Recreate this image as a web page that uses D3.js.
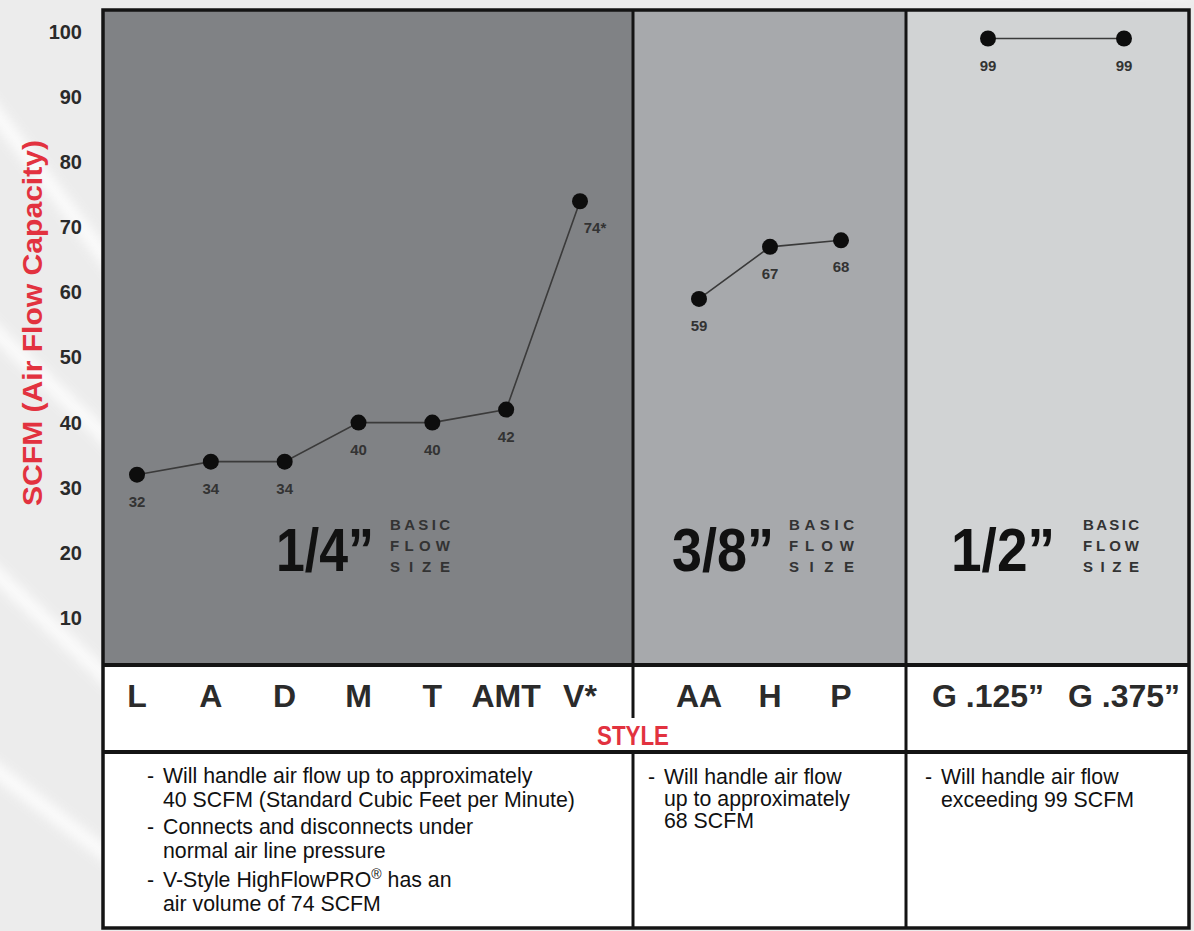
<!DOCTYPE html>
<html>
<head>
<meta charset="utf-8">
<script src="https://cdn.jsdelivr.net/npm/d3@7"></script>
<style>
  html, body { margin: 0; padding: 0; background: #ececec; }
  svg { display: block; }
</style>
</head>
<body>
<div id="chart"></div>
<script>
// ---------------- data ----------------
const stylesQuarter = ["L", "A", "D", "M", "T", "AMT", "V*"];
const valuesQuarter = [32, 34, 34, 40, 40, 42, 74];
const labelsQuarter = ["32", "34", "34", "40", "40", "42", "74*"];

const stylesThreeEighths = ["AA", "H", "P"];
const valuesThreeEighths = [59, 67, 68];
const labelsThreeEighths = ["59", "67", "68"];

const stylesHalf = ["G .125\u201D", "G .375\u201D"];
const valuesHalf = [99, 99];
const labelsHalf = ["99", "99"];

const flowSizes = ["1/4\u201D", "3/8\u201D", "1/2\u201D"];
const flowSizeWords = ["BASIC", "FLOW", "SIZE"];
const yTicks = [10, 20, 30, 40, 50, 60, 70, 80, 90, 100];

const yTitle = "SCFM (Air Flow Capacity)";
const xTitle = "STYLE";

const notesQuarter = [
  ["Will handle air flow up to approximately", "40 SCFM (Standard Cubic Feet per Minute)"],
  ["Connects and disconnects under", "normal air line pressure"],
  ["V-Style HighFlowPRO\u00AE has an", "air volume of 74 SCFM"]
];
const notesThreeEighths = [["Will handle air flow", "up to approximately", "68 SCFM"]];
const notesHalf = [["Will handle air flow", "exceeding 99 SCFM"]];

// ---------------- layout ----------------
const W = 1194, H = 931;
const frame = { left: 103, right: 1189, top: 10, bottom: 928 };
const plotBottom = 665, styleBottom = 752;
const div1 = 633, div2 = 906;
const panelFills = ["#808285", "#a7a9ac", "#d1d3d4"];
const FONT = "Liberation Sans, Arial, sans-serif";

const svg = d3.select("#chart").append("svg").attr("width", W).attr("height", H);

// background with faint swooshes
const defs = svg.append("defs");
defs.append("filter").attr("id", "blur").append("feGaussianBlur").attr("stdDeviation", 6);
svg.append("rect").attr("width", W).attr("height", H).attr("fill", "#ececec");
const swooshes = svg.append("g").attr("filter", "url(#blur)").attr("opacity", 0.85);
[[-60, 40, 160, 330], [-80, 260, 140, 470], [-40, 540, 130, 700], [-70, 720, 140, 880], [300, -40, 1190, -10]]
  .forEach(d => swooshes.append("line")
    .attr("x1", d[0]).attr("y1", d[1]).attr("x2", d[2]).attr("y2", d[3])
    .attr("stroke", "#ffffff").attr("stroke-width", 14));

// panels
const panels = [
  { x0: frame.left, x1: div1, fill: panelFills[0] },
  { x0: div1, x1: div2, fill: panelFills[1] },
  { x0: div2, x1: frame.right, fill: panelFills[2] }
];
svg.selectAll("rect.panel").data(panels).enter().append("rect")
  .attr("class", "panel")
  .attr("x", d => d.x0).attr("y", frame.top)
  .attr("width", d => d.x1 - d.x0).attr("height", plotBottom - frame.top)
  .attr("fill", d => d.fill);
svg.append("rect").attr("x", frame.left).attr("y", plotBottom)
  .attr("width", frame.right - frame.left).attr("height", frame.bottom - plotBottom)
  .attr("fill", "#ffffff");

// scales
const y = d3.scaleLinear().domain([0, 100]).range([683, 32]);
const xQ = d3.scalePoint().domain(stylesQuarter).range([137, 580]);
const xT = d3.scalePoint().domain(stylesThreeEighths).range([699, 841]);
const xH = d3.scalePoint().domain(stylesHalf).range([988, 1124]);

// y axis
const yAxis = svg.append("g").attr("transform", "translate(84,0)")
  .call(d3.axisLeft(y).tickValues(yTicks).tickSize(0).tickPadding(2));
yAxis.select(".domain").remove();
yAxis.selectAll("text")
  .attr("font-family", FONT)
  .attr("font-weight", "bold").attr("font-size", 20).attr("fill", "#2a2a2a");

svg.append("text")
  .attr("transform", "translate(42,323) rotate(-90)")
  .attr("text-anchor", "middle")
  .attr("font-family", FONT)
  .attr("font-weight", "bold").attr("font-size", 28)
  .attr("textLength", 366).attr("lengthAdjust", "spacingAndGlyphs")
  .attr("fill", "#e2323f").text(yTitle);

// series
const groups = [
  { styles: stylesQuarter, values: valuesQuarter, labels: labelsQuarter, x: xQ },
  { styles: stylesThreeEighths, values: valuesThreeEighths, labels: labelsThreeEighths, x: xT },
  { styles: stylesHalf, values: valuesHalf, labels: labelsHalf, x: xH }
];

const line = d3.line();
groups.forEach(g => {
  const pts = g.styles.map((s, i) => ({ s, v: g.values[i], lab: g.labels[i] }));
  const gg = svg.append("g");
  gg.append("path")
    .attr("d", line(pts.map(p => [g.x(p.s), y(p.v)])))
    .attr("fill", "none").attr("stroke", "#3a3a3a").attr("stroke-width", 1.6);
  gg.selectAll("circle").data(pts).enter().append("circle")
    .attr("cx", p => g.x(p.s)).attr("cy", p => y(p.v)).attr("r", 8)
    .attr("fill", "#0d0d0d");
  gg.selectAll("text.val").data(pts).enter().append("text")
    .attr("class", "val")
    .attr("x", p => g.x(p.s) + (p.lab.includes("*") ? 15 : 0))
    .attr("y", p => y(p.v) + 32)
    .attr("text-anchor", "middle")
    .attr("font-family", FONT)
    .attr("font-weight", "bold").attr("font-size", 15)
    .attr("fill", "#333333").text(p => p.lab);
  // style labels
  svg.append("g").selectAll("text").data(g.styles).enter().append("text")
    .attr("x", s => g.x(s)).attr("y", 707)
    .attr("text-anchor", "middle")
    .attr("font-family", FONT)
    .attr("font-weight", "bold").attr("font-size", 32)
    .attr("fill", "#2b2b2b").text(s => s);
});

// flow size annotations
const sizePos = [
  { x: 276, len: 98, wx: 390, wlen: 60 },
  { x: 672, len: 102, wx: 789, wlen: 65 },
  { x: 951, len: 104, wx: 1083, wlen: 56 }
];
flowSizes.forEach((t, i) => {
  const p = sizePos[i];
  svg.append("text").attr("x", p.x).attr("y", 571)
    .attr("font-family", FONT)
    .attr("font-weight", "bold").attr("font-size", 62)
    .attr("textLength", p.len).attr("lengthAdjust", "spacingAndGlyphs")
    .attr("fill", "#111111").text(t);
  flowSizeWords.forEach((w, j) => {
    svg.append("text").attr("x", p.wx).attr("y", 530 + j * 21)
      .attr("font-family", FONT)
      .attr("font-weight", "bold").attr("font-size", 15)
      .attr("textLength", p.wlen).attr("lengthAdjust", "spacing")
      .attr("fill", "#333333").text(w);
  });
});

// grid / frame lines
const ink = "#141414";
svg.append("line").attr("x1", div1).attr("x2", div1).attr("y1", frame.top).attr("y2", 718)
  .attr("stroke", ink).attr("stroke-width", 3);
svg.append("line").attr("x1", div1).attr("x2", div1).attr("y1", styleBottom).attr("y2", frame.bottom)
  .attr("stroke", ink).attr("stroke-width", 3);
svg.append("line").attr("x1", div2).attr("x2", div2).attr("y1", frame.top).attr("y2", frame.bottom)
  .attr("stroke", ink).attr("stroke-width", 3);
svg.append("line").attr("x1", frame.left).attr("x2", frame.right).attr("y1", plotBottom).attr("y2", plotBottom)
  .attr("stroke", ink).attr("stroke-width", 4);
svg.append("line").attr("x1", frame.left).attr("x2", frame.right).attr("y1", styleBottom).attr("y2", styleBottom)
  .attr("stroke", ink).attr("stroke-width", 4);
svg.append("rect").attr("x", frame.left).attr("y", frame.top)
  .attr("width", frame.right - frame.left).attr("height", frame.bottom - frame.top)
  .attr("fill", "none").attr("stroke", ink).attr("stroke-width", 3.5);

// STYLE title
svg.append("text").attr("x", div1).attr("y", 745)
  .attr("text-anchor", "middle")
  .attr("font-family", FONT)
  .attr("font-weight", "bold").attr("font-size", 27)
  .attr("textLength", 72).attr("lengthAdjust", "spacingAndGlyphs")
  .attr("fill", "#e2323f").text(xTitle);

// notes
const NOTE_SIZE = 21.3;
function drawNotes(notes, hx, tx, baselines) {
  let k = 0;
  notes.forEach(bullet => {
    bullet.forEach((ln, j) => {
      const yy = baselines[k++];
      if (j === 0) {
        svg.append("text").attr("x", hx).attr("y", yy)
          .attr("font-family", FONT)
          .attr("font-size", NOTE_SIZE).attr("fill", "#111").text("-");
      }
      const t = svg.append("text").attr("x", tx).attr("y", yy)
        .attr("font-family", FONT)
        .attr("font-size", NOTE_SIZE).attr("fill", "#111");
      if (ln.includes("\u00AE")) {
        const parts = ln.split("\u00AE");
        t.append("tspan").text(parts[0]);
        t.append("tspan").attr("font-size", 14).attr("dy", -8).text("\u00AE");
        t.append("tspan").attr("dy", 8).text(parts[1]);
      } else {
        t.text(ln);
      }
    });
  });
}
drawNotes(notesQuarter, 147, 163, [783, 807, 834, 858, 887, 911]);
drawNotes(notesThreeEighths, 648, 664, [784, 806, 828]);
drawNotes(notesHalf, 925, 941, [784, 807]);
</script>
</body>
</html>
